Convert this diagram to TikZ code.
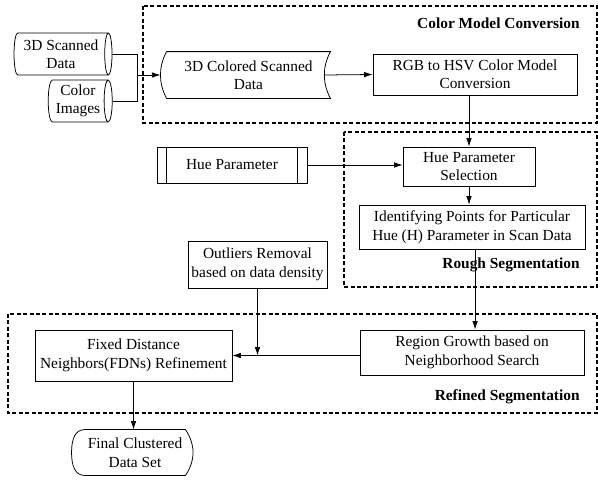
\documentclass[tikz,border=0pt]{standalone}
\usepackage{fontspec}
\setmainfont{Liberation Serif}
\usetikzlibrary{shapes.geometric,calc,arrows.meta}

\begin{document}
\begin{tikzpicture}[x=0.65pt,y=-0.65pt,line width=0.5pt,>={Latex[length=5.5pt,width=3.6pt]},
  box/.style={draw,align=center,inner sep=1pt},
  zone/.style={line width=1pt,dash pattern=on 2.6pt off 1.6pt},
  zonelabel/.style={font=\bfseries,anchor=east,inner sep=0pt},
  drum/.style={cylinder,draw,aspect=0.25,align=center,inner sep=0pt}]
\useasboundingbox (0,0) rectangle (598,481);
\draw[zone] (143,6) rectangle (597,123);
\draw[zone] (344,132) rectangle (597,287);
\draw[zone] (8,314) rectangle (597,413);
\node[zonelabel] (lblcolor) at (580,23) {Color Model Conversion};
\node[zonelabel] (lblrough) at (580,265) {Rough Segmentation};
\node[zonelabel] (lblrefined) at (580,397) {Refined Segmentation};
\node[drum,minimum height=63.7pt,minimum width=27.3pt] (scan) at (61,54) {3D Scanned\\Data};
\node[drum,minimum height=41.6pt,minimum width=27.3pt] (img) at (78,101) {Color\\Images};
\node[align=center,minimum width=106pt,minimum height=29.9pt,inner sep=0pt] (colored) at (248.5,75) {3D Colored Scanned\\Data};
\draw (colored.north west) -- (colored.north east) .. controls +(-5.3pt,-10pt) and +(-5.3pt,10pt) .. (colored.south east) -- (colored.south west) .. controls +(-5.3pt,10pt) and +(-5.3pt,-10pt) .. (colored.north west);
\node[box,minimum width=132.6pt,minimum height=26.7pt] (rgb) at (475,74.5) {RGB to HSV Color Model\\Conversion};
\node[box,minimum width=85.8pt,minimum height=25.4pt] (hsel) at (469,166.5) {Hue Parameter\\Selection};
\node[box,minimum width=146.9pt,minimum height=28.6pt] (ident) at (472,227) {Identifying Points for Particular\\Hue (H) Parameter in Scan Data};
\node[box,minimum width=97.5pt,minimum height=23.4pt] (hue) at (232,165) {Hue Parameter};
\draw ([xshift=6.5pt]hue.north west) -- ([xshift=6.5pt]hue.south west) ([xshift=-6.5pt]hue.north east) -- ([xshift=-6.5pt]hue.south east);
\node[box,minimum width=90.4pt,minimum height=30.6pt] (outl) at (257.5,264.5) {Outliers Removal\\based on data density};
\node[box,minimum width=128pt,minimum height=33.2pt] (fdn) at (133.5,355.5) {Fixed Distance\\Neighbors(FDNs) Refinement};
\node[box,minimum width=145.6pt,minimum height=29.3pt] (region) at (472,352.5) {Region Growth based on\\Neighborhood Search};
\node[align=center,minimum width=65pt,minimum height=29.3pt,inner sep=0pt] (final) at (135,452.5) {Final Clustered\\Data Set};
\draw (final.north west) -- (final.north east) .. controls +(3pt,-4pt) and +(0pt,5pt) .. ($(final.east)+(5pt,0pt)$) .. controls +(0pt,-5pt) and +(3pt,4pt) .. (final.south east) -- (final.south west) .. controls +(-6pt,0pt) and +(0pt,-9pt) .. ($(final.west)+(-8.5pt,0pt)$) .. controls +(0pt,9pt) and +(-6pt,0pt) .. (final.north west);
\coordinate (join) at (137,75);
\draw (scan.east) -| (join);
\draw (img.east) -| (join);
\draw[->] (join) -- ($(colored.west)+(-4pt,0pt)$);
\draw[->] ($(colored.east)+(-4pt,0pt)$) -- (rgb.west);
\draw[->] (hsel.north |- rgb.south) -- (hsel.north);
\draw[->] (hue.east) -- (hue.east -| hsel.west);
\draw[->] (hsel.south) -- (hsel.south |- ident.north);
\draw[->] ([xshift=2pt]ident.south) -- ([xshift=2pt]region.north);
\coordinate (meet) at (outl.south |- fdn.east);
\draw[->] (region.west |- fdn.east) -- (fdn.east);
\draw[->] (outl.south) -- (meet);
\draw[->] (fdn.south) -- (fdn.south |- final.north);
\end{tikzpicture}
\end{document}
